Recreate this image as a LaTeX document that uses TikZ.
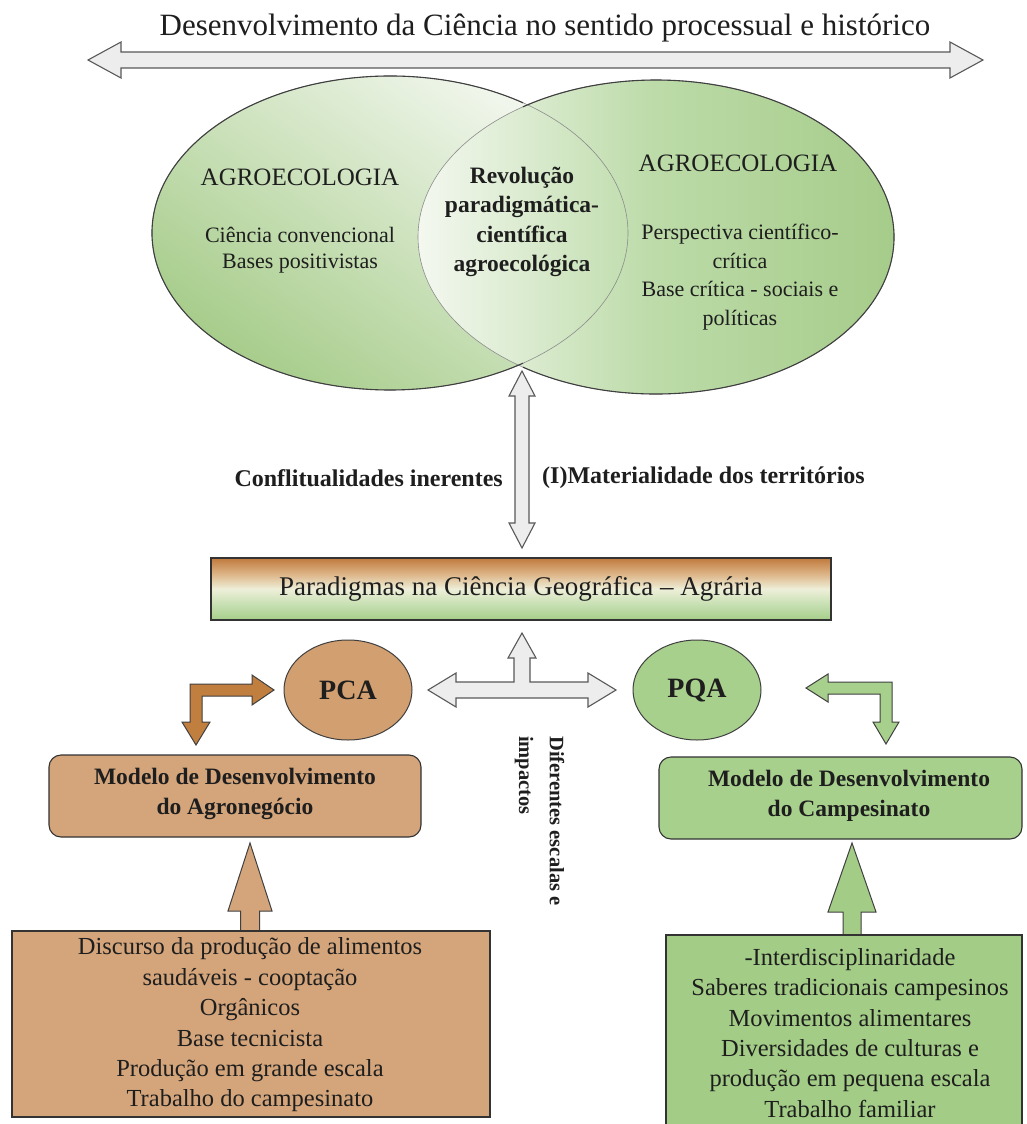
\documentclass[tikz,border=0pt]{standalone}
\usepackage{fontspec}
\setmainfont{Liberation Serif}
\usetikzlibrary{shapes.geometric}
\definecolor{arrowgray}{HTML}{EDEDED}
\definecolor{ellGreen}{HTML}{A6CC8A}
\definecolor{ellLight}{HTML}{F4F8F0}
\definecolor{ellMid}{HTML}{BCDBA8}
\definecolor{parTop}{HTML}{C07A3C}
\definecolor{parTan}{HTML}{DDB588}
\definecolor{parMid}{HTML}{EEEFD8}
\definecolor{parLG}{HTML}{C8E0B4}
\definecolor{parBot}{HTML}{A5CE89}
\definecolor{tanFill}{HTML}{D4A57B}
\definecolor{pcaFill}{HTML}{D29F70}
\definecolor{copper}{HTML}{C17F3F}
\definecolor{greenFill}{HTML}{A8D08D}
\definecolor{greenBox}{HTML}{A3CD86}
\definecolor{txtDark}{HTML}{1E1E1E}
\pgfdeclareverticalshading{parshade}{100bp}{color(0bp)=(parBot); color(25bp)=(parBot); color(38bp)=(parLG); color(50bp)=(parMid); color(62bp)=(parTan); color(75bp)=(parTop); color(100bp)=(parTop)}
\begin{document}
\begin{tikzpicture}[x=1pt,y=1pt,
  outl/.style={draw=black!75, line width=1.1pt},
  thinl/.style={draw=black!45, line width=0.6pt},
  grayarrow/.style={draw=black!65, fill=arrowgray, line width=1.1pt, line join=miter},
  brownarrow/.style={draw=black!75, fill=copper, line width=1pt, line join=miter},
  greenarrow/.style={draw=black!75, fill=greenFill, line width=1pt, line join=miter},
  tanarrow/.style={draw=black!75, fill=tanFill, line width=1pt, line join=miter},
  garrow/.style={draw=black!75, fill=greenBox, line width=1pt, line join=miter},
  ell/.style={ellipse, inner sep=0pt, minimum width=476pt, minimum height=314pt},
  etxt/.style={align=center, inner sep=0pt, text=txtDark, font=\fontsize{22}{26.5}\selectfont},
  btxt/.style={align=center, inner sep=0pt, text=txtDark, font=\bfseries\fontsize{24}{29}\selectfont},
  boxtxt/.style={align=center, inner sep=0pt, text=txtDark, font=\fontsize{24.5}{30.4}\selectfont},
  rbox/.style={draw=black!80, line width=1.1pt, rounded corners=12pt, inner sep=0pt},
  sbox/.style={draw=black!80, line width=1.1pt, inner sep=0pt}
]
\useasboundingbox (0,0) rectangle (1026,-1124);
\fill[white] (0,0) rectangle (1026,-1124);

% title and top double arrow
\node[inner sep=0pt, text=txtDark, font=\fontsize{31}{34}\selectfont] (title) at (545,-28) {Desenvolvimento da Ciência no sentido processual e histórico};
\draw[grayarrow] (88,-60) -- (121,-42) -- (121,-52) -- (950,-52) -- (950,-42) -- (983,-60) -- (950,-78) -- (950,-68) -- (121,-68) -- (121,-78) -- cycle;

% ellipses
\node[ell, shade, top color=ellLight, bottom color=ellGreen, shading angle=-35] (L) at (390,-233) {};
\node[ell, shade, left color=ellLight, right color=ellGreen, middle color=ellMid] (R) at (656,-237) {};
\draw[thinl] (L.center) ellipse [x radius=238pt, y radius=157pt];
\draw[thinl] (R.center) ellipse [x radius=238pt, y radius=157pt];
\draw[outl] (L.center) ++(56:238pt and 157pt) arc[start angle=56, end angle=304, x radius=238pt, y radius=157pt];
\draw[outl] (R.center) ++(-124:238pt and 157pt) arc[start angle=-124, end angle=124, x radius=238pt, y radius=157pt];

% ellipse texts
\node[etxt, font=\fontsize{25}{28}\selectfont] (agL) at (300,-177) {AGROECOLOGIA};
\node[etxt] (ccL) at (300,-250) {Ciência convencional\\Bases positivistas};
\node[btxt, font=\bfseries\fontsize{23.5}{29.5}\selectfont] (rev) at (522,-222) {Revolução\\paradigmática-\\científica\\agroecológica};
\node[etxt, font=\fontsize{25}{28}\selectfont] (agR) at (738,-163) {AGROECOLOGIA};
\node[etxt, font=\fontsize{22}{28.4}\selectfont] (pcR) at (740,-277) {Perspectiva científico-\\crítica\\Base crítica - sociais e\\políticas};

% vertical double arrow
\draw[grayarrow] (522,-371) -- (535,-396) -- (529,-396) -- (529,-523) -- (535,-523) -- (522,-548) -- (509,-523) -- (515,-523) -- (515,-396) -- (509,-396) -- cycle;
\node[btxt, anchor=east] (conf) at (503,-478) {Conflitualidades inerentes};
\node[btxt, anchor=west] (mat) at (542,-478) {(I)Materialidade dos territórios};

% paradigmas box
\node[sbox, shading=parshade, minimum width=620pt, minimum height=62pt, text=txtDark, font=\fontsize{27}{30}\selectfont] (P) at (521,-589) {Paradigmas na Ciência Geográfica – Agrária};

% T arrow
\draw[grayarrow] (428,-690) -- (456,-673) -- (456,-682) -- (514,-682) -- (514,-658) -- (508,-658) -- (522,-633) -- (536,-658) -- (530,-658) -- (530,-682) -- (588,-682) -- (588,-673) -- (616,-690) -- (588,-707) -- (588,-698) -- (456,-698) -- (456,-707) -- cycle;

% PCA / PQA
\node[ellipse, draw=black!75, line width=1pt, fill=pcaFill, minimum width=128pt, minimum height=100pt, inner sep=0pt, text=txtDark, font=\bfseries\fontsize{28}{30}\selectfont] (PCA) at (348,-690) {PCA};
\node[ellipse, draw=black!75, line width=1pt, fill=greenFill, minimum width=128pt, minimum height=100pt, inner sep=0pt, text=txtDark, font=\bfseries\fontsize{28}{30}\selectfont] (PQA) at (697,-690) {PQA};

% bent arrows
\draw[brownarrow] (274,-690) -- (252,-675) -- (252,-684) -- (190,-684) -- (190,-722) -- (182,-722) -- (196,-745) -- (210,-722) -- (202,-722) -- (202,-696) -- (252,-696) -- (252,-705) -- cycle;
\draw[greenarrow] (806,-688) -- (828,-674) -- (828,-682) -- (892,-682) -- (892,-722) -- (899,-722) -- (886,-744) -- (873,-722) -- (880,-722) -- (880,-694) -- (828,-694) -- (828,-702) -- cycle;

% modelo boxes
\node[rbox, fill=tanFill, minimum width=372pt, minimum height=82pt] (MA) at (235,-796) {};
\node[btxt, font=\bfseries\fontsize{23.5}{30}\selectfont] (MAt) at (235,-794) {Modelo de Desenvolvimento\\do Agronegócio};
\node[rbox, fill=greenFill, minimum width=363pt, minimum height=82pt] (MC) at (840.5,-798) {};
\node[btxt, font=\bfseries\fontsize{23.5}{30}\selectfont] (MCt) at (849,-796) {Modelo de Desenvolvimento\\do Campesinato};

% vertical text
\node[btxt, font=\bfseries\fontsize{20.5}{26}\selectfont, rotate=-90, anchor=west] (dif1) at (557,-736) {Diferentes escalas e};
\node[btxt, font=\bfseries\fontsize{20.5}{26}\selectfont, rotate=-90, anchor=west] (dif2) at (524,-736) {impactos};

% bottom up arrows
\draw[tanarrow] (250,-843) -- (272,-911) -- (259.5,-911) -- (259.5,-931) -- (240.5,-931) -- (240.5,-911) -- (228,-911) -- cycle;
\draw[garrow] (852,-843) -- (876,-912) -- (861,-912) -- (861,-935) -- (843,-935) -- (843,-912) -- (828,-912) -- cycle;

% bottom boxes
\node[sbox, fill=tanFill, minimum width=478pt, minimum height=186pt] (BL) at (251,-1024) {};
\node[boxtxt] (BLt) at (250,-1025) {Discurso da produção de alimentos\\saudáveis - cooptação\\Orgânicos\\Base tecnicista\\Produção em grande escala\\Trabalho do campesinato};
\node[sbox, fill=greenBox, minimum width=356pt, minimum height=197pt] (BR) at (844,-1033.5) {};
\node[boxtxt] (BRt) at (850,-1033) {-Interdisciplinaridade\\Saberes tradicionais campesinos\\Movimentos alimentares\\Diversidades de culturas e\\produção em pequena escala\\Trabalho familiar};
\end{tikzpicture}
\end{document}
